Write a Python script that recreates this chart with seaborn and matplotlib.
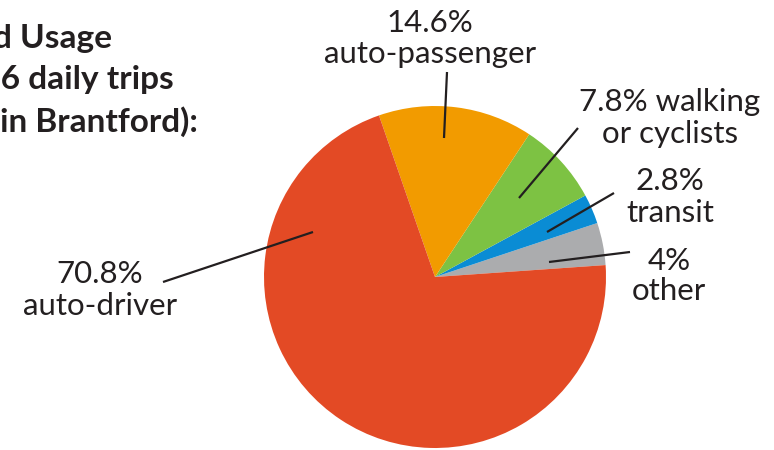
import matplotlib
matplotlib.use("Agg")
import matplotlib.pyplot as plt
import seaborn as sns

# ==========================================
# DATA
# ==========================================
modes = ["other", "transit", "walking or cyclists", "auto-passenger", "auto-driver"]
shares = [4.0, 2.8, 7.8, 14.6, 70.8]
slice_colors = ["#ABACAE", "#0A8CD4", "#7DC243", "#F29B00", "#E34A25"]

title_lines = ["d Usage", ".6 daily trips", "in Brantford):"]

# label text lines (percent line, name line)
label_lines = {
    "auto-passenger": ["14.6%", "auto-passenger"],
    "walking or cyclists": ["7.8% walking", "or cyclists"],
    "transit": ["2.8%", "transit"],
    "other": ["4%", "other"],
    "auto-driver": ["70.8%", "auto-driver"],
}

# ==========================================
# STYLE
# ==========================================
sns.set_theme(style="white")
plt.rcParams["font.family"] = ["Lato", "DejaVu Sans"]

W, H = 774, 450
fig = plt.figure(figsize=(7.74, 4.5), dpi=100)
ax = fig.add_axes([0, 0, 1, 1])

cx, cy, r = 435, H - 277, 171
ax.pie(shares, colors=slice_colors, startangle=4, counterclock=True,
       center=(cx, cy), radius=r, wedgeprops=dict(linewidth=0), frame=True)
ax.set_xlim(0, W)
ax.set_ylim(0, H)
ax.set_aspect("equal")
ax.axis("off")

ink = "#231F20"

# title (clipped at left edge, as in the source graphic)
for txt, x, yb in zip(title_lines, [-7, -7, 0], [48, 89, 132]):
    ax.text(x, H - yb, txt, fontsize=24, fontweight="bold", color=ink,
            ha="left", va="baseline")

# labels: (center x, baseline y of line 1, baseline y of line 2)
label_pos = {
    "auto-passenger": (430, 32, 63),
    "walking or cyclists": (670, 111, 143),
    "transit": (670, 190, 222),
    "other": (669, 270, 300),
    "auto-driver": (100, 283, 315),
}
for m in modes:
    x, y1, y2 = label_pos[m]
    l1, l2 = label_lines[m]
    ax.text(x, H - y1, l1, fontsize=22.5, fontweight="normal", color=ink,
            ha="center", va="baseline")
    ax.text(x, H - y2, l2, fontsize=22.5, fontweight="normal", color=ink,
            ha="center", va="baseline")

# leader lines
leaders = {
    "auto-passenger": [(447, 72), (444, 138)],
    "walking or cyclists": [(578, 128), (519, 198)],
    "transit": [(614, 193), (547, 232)],
    "other": [(630, 252), (549, 262)],
    "auto-driver": [(163, 282), (313, 232)],
}
for m in modes:
    (x0, y0), (x1, y1) = leaders[m]
    ax.plot([x0, x1], [H - y0, H - y1], color=ink, lw=1.6,
            solid_capstyle="butt")

fig.savefig("out.png", dpi=100)
